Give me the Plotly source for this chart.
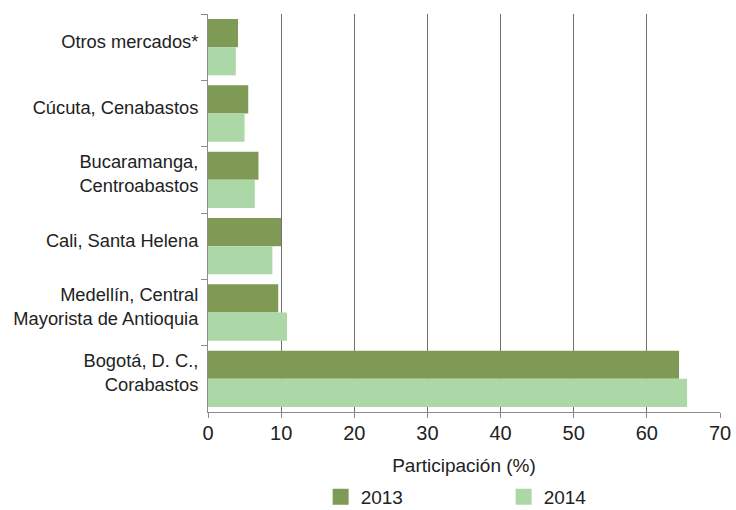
import plotly.graph_objects as go

categories = [
    "Otros mercados*",
    "Cúcuta, Cenabastos",
    "Bucaramanga,<br>Centroabastos",
    "Cali, Santa Helena",
    "Medellín, Central<br>Mayorista de Antioquia",
    "Bogotá, D. C.,<br>Corabastos",
]
values_2013 = [4.1, 5.5, 6.9, 10.0, 9.6, 64.4]
values_2014 = [3.8, 5.0, 6.4, 8.8, 10.8, 65.5]
x_ticks = [0, 10, 20, 30, 40, 50, 60, 70]

c2013 = "#7f9a55"
c2014 = "#acd8a7"
FONT = "Liberation Sans, Arial, sans-serif"

fig = go.Figure()
fig.add_trace(go.Bar(y=categories, x=values_2013, orientation="h", name="2013",
                     marker=dict(color=c2013, line=dict(width=0)), showlegend=False))
fig.add_trace(go.Bar(y=categories, x=values_2014, orientation="h", name="2014",
                     marker=dict(color=c2014, line=dict(width=0)), showlegend=False))
# legend entries
fig.add_trace(go.Scatter(x=[None], y=[None], mode="markers", name="2013",
                         marker=dict(symbol="square", size=16, color=c2013)))
fig.add_trace(go.Scatter(x=[None], y=[None], mode="markers", name="2014",
                         marker=dict(symbol="square", size=16, color=c2014)))

fig.update_layout(
    width=736, height=510,
    margin=dict(l=208, r=16, t=14, b=98, autoexpand=False),
    paper_bgcolor="white", plot_bgcolor="white",
    font=dict(family=FONT, size=18, color="#222"),
    barmode="group", bargap=0.15, bargroupgap=0.0,
    showlegend=True,
    legend=dict(orientation="h", x=0.22, xanchor="left", y=-0.2136, yanchor="middle",
                entrywidth=138, entrywidthmode="pixels", font=dict(size=19),
                itemclick=False),
    xaxis=dict(range=[0, 70], tickvals=x_ticks, showgrid=True, gridcolor="#6f6f6f",
               gridwidth=1, zeroline=False, showline=True, linecolor="#8a8a8a",
               linewidth=1, ticks="outside", ticklen=5, tickcolor="#8a8a8a",
               tickfont=dict(size=20), automargin=False, ticklabelstandoff=-2,
               title=dict(text="Participación (%)", font=dict(size=19), standoff=15)),
    yaxis=dict(autorange="reversed", showline=True, linecolor="#8a8a8a", linewidth=1,
               ticks="outside", tickson="boundaries", ticklen=6, tickcolor="#8a8a8a",
               showgrid=False, tickfont=dict(size=18.3), automargin=False,
               ticklabelstandoff=5, ticklabelshift=6),
)

fig.write_html("out.html", post_script="document.body.style.margin='0';",
               config={"displayModeBar": False})
